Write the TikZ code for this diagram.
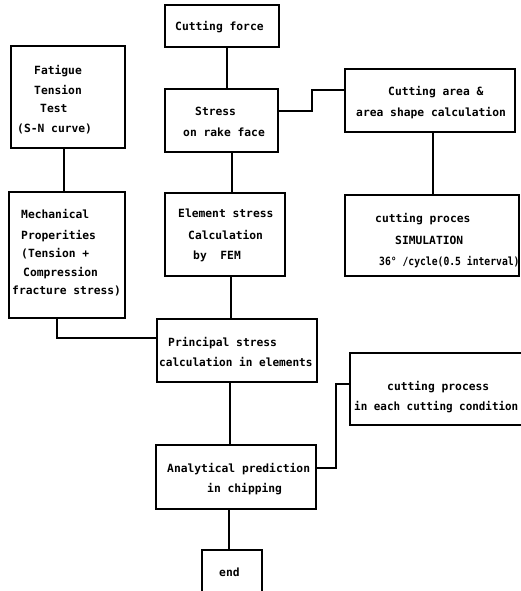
\documentclass[tikz,border=0pt]{standalone}
\usepackage{fontspec}
\setmonofont{DejaVu Sans Mono}
\newcommand\lbfont{\ttfamily\bfseries\fontsize{11.3}{13}\selectfont}
\begin{document}
\begin{tikzpicture}[x=1pt,y=-1pt,
  box/.style={draw, line width=1.1pt, rectangle, inner sep=0pt},
  lbl/.style={inner sep=0pt, anchor=base west, font=\lbfont},
  wire/.style={line width=1.1pt}]
\useasboundingbox (0,0) rectangle (521,591);
% boxes
\node[box, minimum width=114pt, minimum height=42pt] (force) at (222,26) {};
\node[box, minimum width=113pt, minimum height=63pt] (stress) at (221.5,120.5) {};
\node[box, minimum width=114pt, minimum height=102pt] (fatigue) at (68,97) {};
\node[box, minimum width=116pt, minimum height=126pt] (mech) at (67,255) {};
\node[box, minimum width=170pt, minimum height=63pt] (area) at (430,100.5) {};
\node[box, minimum width=174pt, minimum height=81pt] (sim) at (432,235.5) {};
\node[box, minimum width=120pt, minimum height=83pt] (elem) at (225,234.5) {};
\node[box, minimum width=160pt, minimum height=63pt] (princ) at (237,350.5) {};
\node[box, minimum width=160pt, minimum height=64pt] (anal) at (236,477) {};
\node[box, minimum width=190pt, minimum height=72pt] (proc) at (445,389) {};
\node[box, minimum width=60pt, minimum height=50pt] (end) at (232,575) {};
% texts
\node[lbl] (t-force) at (175,31) {Cutting force};
\node[lbl] (t-stress1) at (195,116) {Stress};
\node[lbl] (t-stress2) at (183,136) {on rake face};
\node[lbl] (t-fat1) at (34,75) {Fatigue};
\node[lbl] (t-fat2) at (34,95) {Tension};
\node[lbl] (t-fat3) at (40,113) {Test};
\node[lbl] (t-fat4) at (17,132) {(S-N curve)};
\node[lbl] (t-mech1) at (21,218) {Mechanical};
\node[lbl] (t-mech2) at (21,239) {Properities};
\node[lbl] (t-mech3) at (21,257) {(Tension +};
\node[lbl] (t-mech4) at (23,276) {Compression};
\node[lbl] (t-mech5) at (12,294) {fracture stress)};
\node[lbl] (t-elem1) at (178,217) {Element stress};
\node[lbl] (t-elem2) at (188,239) {Calculation};
\node[lbl] (t-elem3) at (193,259) {by\ \ FEM};
\node[lbl] (t-area1) at (388,96) {Cutting area \&};
\node[lbl] (t-area2) at (356,117) {area shape calculation};
\node[lbl] (t-sim1) at (375,222) {cutting proces};
\node[lbl] (t-sim2) at (395,244) {SIMULATION};
\node[lbl, xscale=0.86, transform shape] (t-sim3) at (379,265) {36° /cycle(0.5 interval)};
\node[lbl] (t-princ1) at (168,346) {Principal stress};
\node[lbl, xscale=0.98, transform shape] (t-princ2) at (159,366) {calculation in elements};
\node[lbl] (t-anal1) at (167,472) {Analytical prediction};
\node[lbl] (t-anal2) at (207,492) {in chipping};
\node[lbl] (t-proc1) at (387,390) {cutting process};
\node[lbl, xscale=0.965, transform shape] (t-proc2) at (354,410) {in each cutting condition};
\node[lbl] (t-end) at (219,576) {end};
% bend points
\coordinate (b1) at (312,111);
\coordinate (b2) at (312,90);
\coordinate (b3) at (57,338);
\coordinate (b4) at (336,468);
\coordinate (b5) at (336,384);
% connectors
\draw[wire] (force.south -| 227,0) -- (stress.north -| 227,0);
\draw[wire] (stress.east |- b1) -- (b1) -- (b2) -- (area.west |- b2);
\draw[wire] (fatigue.south -| 64,0) -- (mech.north -| 64,0);
\draw[wire] (area.south -| 433,0) -- (sim.north -| 433,0);
\draw[wire] (stress.south -| 232,0) -- (elem.north -| 232,0);
\draw[wire] (elem.south -| 231,0) -- (princ.north -| 231,0);
\draw[wire] (mech.south -| b3) -- (b3) -- (princ.west |- b3);
\draw[wire] (princ.south -| 230,0) -- (anal.north -| 230,0);
\draw[wire] (anal.east |- b4) -- (b4) -- (b5) -- (proc.west |- b5);
\draw[wire] (anal.south -| 229,0) -- (end.north -| 229,0);
\end{tikzpicture}
\end{document}
